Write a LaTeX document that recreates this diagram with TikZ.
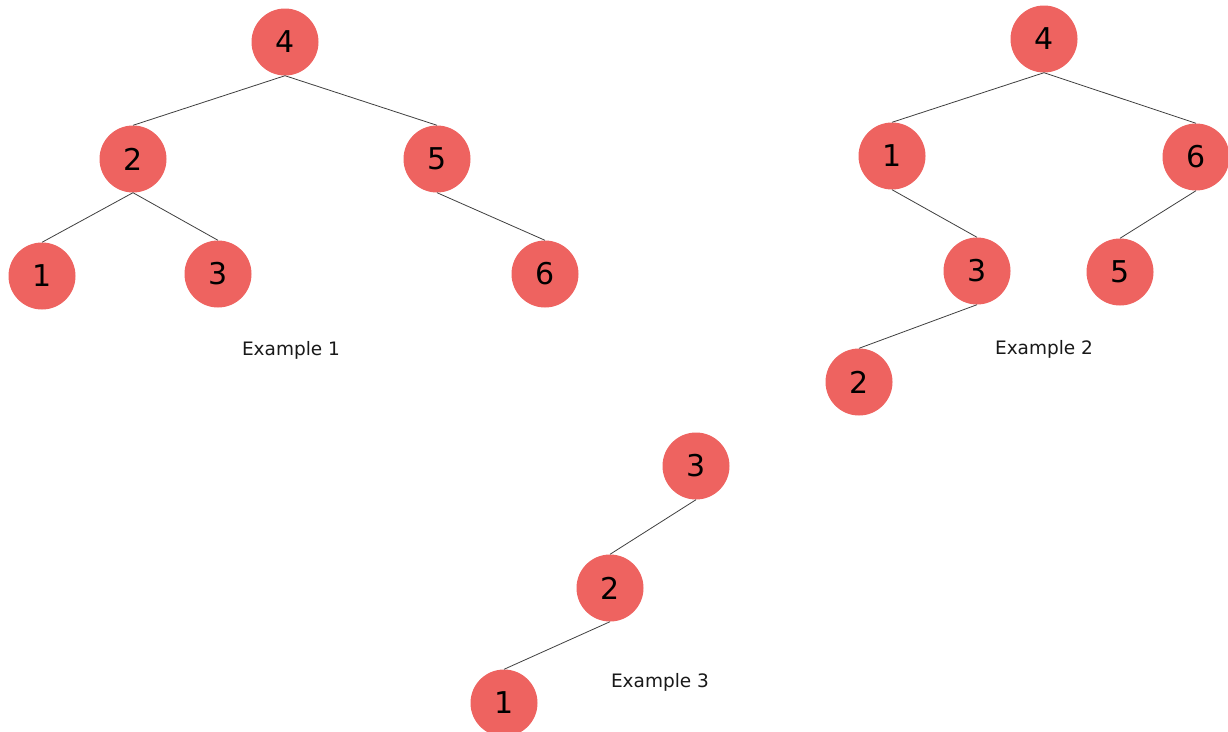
\documentclass[tikz,border=0pt]{standalone}
\usepackage{fontspec}
\setmainfont{DejaVu Sans}
\definecolor{nodered}{HTML}{EE6360}
\begin{document}
\begin{tikzpicture}[x=1pt,y=-1pt,
  bnode/.style={circle,fill=nodered,draw=none,minimum size=67pt,inner sep=0pt,
    font=\fontsize{30}{30}\selectfont,text=black},
  edge/.style={draw=black!75,line width=0.8pt},
  caption/.style={font=\fontsize{18.5}{20}\selectfont,text=black!90,inner sep=0pt}]
\useasboundingbox[fill=white] (0,0) rectangle (1228,731);
% Example 1
\node[bnode] (a4) at (285,42) {4};
\node[bnode] (a2) at (133,159) {2};
\node[bnode] (a5) at (437,159) {5};
\node[bnode] (a1) at (42,276) {1};
\node[bnode] (a3) at (218,274) {3};
\node[bnode] (a6) at (545,274) {6};
\draw[edge] (a4.south) -- (a2.north);
\draw[edge] (a4.south) -- (a5.north);
\draw[edge] (a2.south) -- (a1.north);
\draw[edge] (a2.south) -- (a3.north);
\draw[edge] (a5.south) -- (a6.north);
\node[caption] (c1) at (291,350) {Example 1};
% Example 2
\node[bnode] (b4) at (1044,39) {4};
\node[bnode] (b1) at (892,156) {1};
\node[bnode] (b6) at (1196,157) {6};
\node[bnode] (b3) at (977,271) {3};
\node[bnode] (b5) at (1120,272) {5};
\node[bnode] (b2) at (859,382) {2};
\draw[edge] (b4.south) -- (b1.north);
\draw[edge] (b4.south) -- (b6.north);
\draw[edge] (b1.south) -- (b3.north);
\draw[edge] (b3.south) -- (b2.north);
\draw[edge] (b6.south) -- (b5.north);
\node[caption] (c2) at (1044,349) {Example 2};
% Example 3
\node[bnode] (d3) at (696,466) {3};
\node[bnode] (d2) at (610,588) {2};
\node[bnode] (d1) at (504,703) {1};
\draw[edge] (d3.south) -- (d2.north);
\draw[edge] (d2.south) -- (d1.north);
\node[caption] (c3) at (660,682) {Example 3};
\end{tikzpicture}
\end{document}
